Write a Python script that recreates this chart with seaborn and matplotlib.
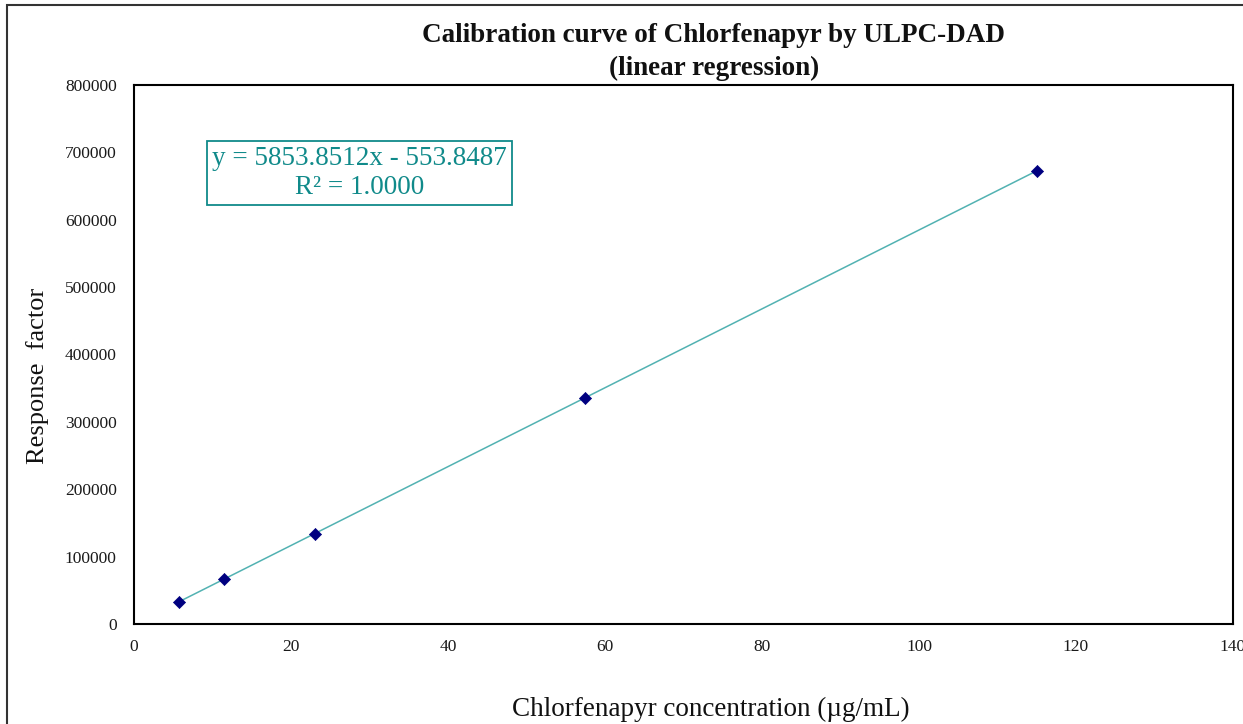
import matplotlib
matplotlib.use("Agg")
import matplotlib.pyplot as plt
import seaborn as sns
import pandas as pd
from matplotlib.patches import Rectangle

# Data
concentration = [5.75, 11.5, 23.0, 57.5, 115.0]
response = [33100, 66800, 134100, 336000, 672600]
x_ticks = [0, 20, 40, 60, 80, 100, 120, 140]
y_ticks = [0, 100000, 200000, 300000, 400000, 500000, 600000, 700000, 800000]
title = "Calibration curve of Chlorfenapyr by ULPC-DAD\n(linear regression)"
equation = "y = 5853.8512x - 553.8487\nR\u00b2 = 1.0000"
x_label = "Chlorfenapyr concentration (\u00b5g/mL)"
y_label = "Response  factor"

sns.set_style("white")
plt.rcParams['font.family'] = ['Liberation Serif', 'DejaVu Serif']
plt.rcParams['text.color'] = '#111111'
plt.rcParams['axes.labelcolor'] = '#111111'

df = pd.DataFrame({"conc": concentration, "resp": response})

fig = plt.figure(figsize=(12.43, 7.24), dpi=100)
ax = fig.add_axes([134/1243, 100/724, 1099/1243, 539/724])

sns.regplot(data=df, x="conc", y="resp", ax=ax, ci=None, truncate=True,
            marker="D",
            scatter_kws={"color": "#000080", "s": 38, "zorder": 3, "alpha": 1,
                         "edgecolor": "#000080", "linewidths": 0.5},
            line_kws={"color": "#52B2B2", "lw": 1.1, "zorder": 2})

ax.set_xlim(0, 140)
ax.set_ylim(0, 800000)
ax.set_xticks(x_ticks)
ax.set_yticks(y_ticks)
ax.set_xticklabels([str(t) for t in x_ticks])
ax.set_yticklabels([str(t) for t in y_ticks])
ax.tick_params(direction="inout", length=9, width=1, colors="black",
               labelsize=12.5, labelcolor="#1a1a1a")
ax.tick_params(axis="y", pad=8)
ax.tick_params(axis="x", pad=6)
for s in ax.spines.values():
    s.set_color("black")
    s.set_linewidth(1.5)

ax.set_xlabel(x_label, fontsize=19.5)
ax.set_ylabel(y_label, fontsize=19)
ax.xaxis.set_label_coords((711 - 134) / 1099, -0.136)
ax.yaxis.set_label_coords(-0.0773, (624 - 376) / 539)

fig.text(714/1243, 1 - 52/724, title, ha="center", va="center",
         fontsize=19.5, fontweight="bold", linespacing=1.45)

ax.text((359.5 - 134) / 1099, (624 - 173) / 539, equation, transform=ax.transAxes,
        ha="center", va="center",
        fontsize=19.5, color="#108A8A", linespacing=1.2,
        bbox=dict(boxstyle="square,pad=0.2", facecolor="white", edgecolor="#108A8A", lw=1.3))

fig.add_artist(Rectangle((7/1243, -0.2), 1.2, 1.2 - 5/724, transform=fig.transFigure,
                         fill=False, edgecolor="#333333", lw=1.5))

fig.savefig("out.png", dpi=100, facecolor="white")
